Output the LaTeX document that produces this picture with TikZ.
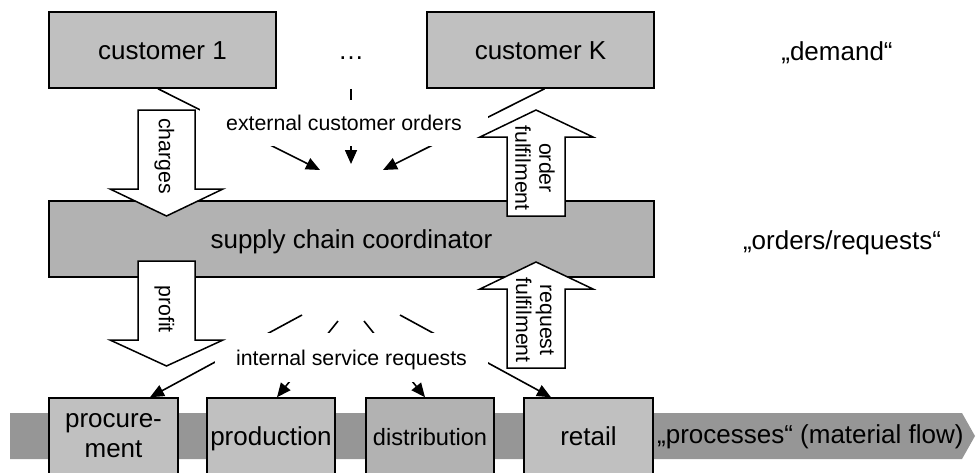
\documentclass[tikz,border=0pt]{standalone}
\usepackage{fontspec}
\setmainfont{Liberation Sans}
\usetikzlibrary{arrows.meta}
\definecolor{boxlight}{HTML}{C0C0C0}
\definecolor{boxdark}{HTML}{B2B2B2}
\definecolor{flowgray}{HTML}{969696}
\newcommand\bigfont{\fontsize{26}{30}\selectfont}
\newcommand\smallfont{\fontsize{21.3}{24}\selectfont}
\begin{document}
\begin{tikzpicture}[x=1pt,y=-1pt,
  box/.style={draw, line width=1.5pt, inner sep=0pt, font=\bigfont, text height=19pt, text depth=0pt, minimum height=76pt},
  plain/.style={inner sep=0pt, font=\bigfont},
  lbl/.style={fill=white, inner sep=0pt, font=\smallfont, text height=15.5pt, text depth=0pt},
  conn/.style={line width=1.6pt, -{Triangle[length=14pt,width=12pt]}},
  barrow/.style={draw, fill=white, line width=1.5pt, line join=miter},
  atext/.style={font=\smallfont, rotate=-90, align=center, inner sep=0pt}
]
\useasboundingbox (0,0) rectangle (977,472);
\clip (0,0) rectangle (977,472);

% material flow band
\fill[flowgray] (10,413) -- (962,413) -- (975,436) -- (962,459) -- (10,459) -- cycle;
\node[plain, anchor=base west] (flow) at (657,443) {„processes“ (material flow)};

% process boxes
\node[box, fill=boxlight, minimum width=129pt, text height={}, text depth={}, align=center] (proc) at (113.5,436) {procure-\\ment};
\node[box, fill=boxlight, minimum width=128pt] (prod) at (271,436) {production};
\node[box, fill=boxdark, minimum width=128pt] (dist) at (430,436) {\fontsize{23.6}{28}\selectfont distribution};
\node[box, fill=boxlight, minimum width=129pt] (retail) at (588.5,436) {retail};

% customers
\node[box, fill=boxlight, minimum width=227pt] (cust1) at (162.5,50) {customer 1};
\node[box, draw=none, minimum width=40pt] (dots) at (351,50) {…};
\node[box, fill=boxlight, minimum width=227pt] (custK) at (540.5,50) {customer K};
\node[plain, anchor=base] (demand) at (837,60) {„demand“};

% coordinator
\node[box, fill=boxdark, minimum width=605pt] (coord) at (351.5,239) {supply chain coordinator};
\node[plain, anchor=base] (ordreq) at (842,249) {„orders/requests“};

% external customer orders
\coordinate (t1) at (320,170);
\coordinate (t2) at (351,164);
\coordinate (t3) at (383,170);
\draw[conn] ([xshift=-4.5pt]cust1.south) -- (t1);
\draw[conn] (dots.south) -- (t2);
\draw[conn] ([xshift=4pt]custK.south) -- (t3);
\node[lbl, minimum width=288pt, minimum height=46pt] (ext) at (344,123) {external customer orders};

% internal service requests
\coordinate (i1) at (302,315);
\coordinate (i2) at (338,321);
\coordinate (i3) at (364,321);
\coordinate (i4) at (400,315);
\draw[conn] (i1) -- ([xshift=36.5pt]proc.north);
\draw[conn] (i2) -- ([xshift=6pt]prod.north);
\draw[conn] (i3) -- ([xshift=-5pt]dist.north);
\draw[conn] (i4) -- ([xshift=-37.5pt]retail.north);
\node[lbl, minimum width=273pt, minimum height=49pt] (int) at (351.5,357.5) {internal service requests};

% block arrows
\draw[barrow] (138,110) -- (195,110) -- (195,189) -- (223,189) -- (166.5,216) -- (110,189) -- (138,189) -- cycle;
\node[atext] (charges) at (164.5,156) {charges};
\draw[barrow] (138,261) -- (195,261) -- (195,340) -- (223,340) -- (166.5,366) -- (110,340) -- (138,340) -- cycle;
\node[atext] (profit) at (164.5,309) {profit};
\draw[barrow] (507,216) -- (565,216) -- (565,137) -- (593,137) -- (536,110) -- (480,137) -- (507,137) -- cycle;
\node[atext] (ordful) at (535,168) {order\\fulfilment};
\draw[barrow] (507,368) -- (565,368) -- (565,289) -- (593,289) -- (536,262) -- (480,289) -- (507,289) -- cycle;
\node[atext] (reqful) at (535,320) {request\\fulfilment};
\end{tikzpicture}
\end{document}
